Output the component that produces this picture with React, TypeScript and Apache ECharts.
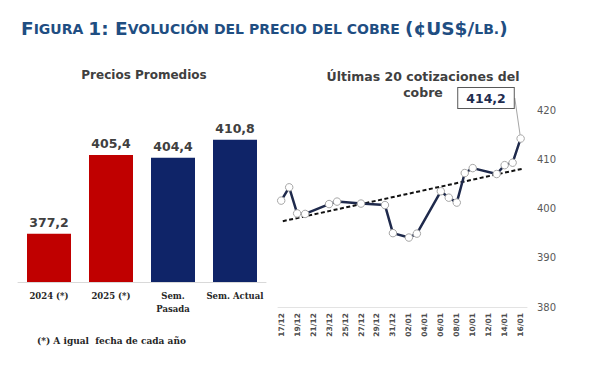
import React, { useEffect, useRef } from 'react';
import * as echarts from 'echarts';

// ---- Data ----
const barCategories = ['2024 (*)', '2025 (*)', 'Sem.\nPasada', 'Sem. Actual'];
const barValues = [377.2, 405.4, 404.4, 410.8];
const barColors = ['#C00000', '#C00000', '#0F2468', '#0F2468'];

const quoteDates = [
  '2024-12-17', '2024-12-18', '2024-12-19', '2024-12-20', '2024-12-23',
  '2024-12-24', '2024-12-27', '2024-12-30', '2024-12-31', '2025-01-02',
  '2025-01-03', '2025-01-06', '2025-01-07', '2025-01-08', '2025-01-09',
  '2025-01-10', '2025-01-13', '2025-01-14', '2025-01-15', '2025-01-16',
];
const quotePrices = [
  401.6, 404.3, 399.0, 398.9, 400.9,
  401.4, 401.0, 400.7, 395.0, 394.1,
  394.9, 403.5, 402.2, 401.2, 407.2,
  408.2, 407.0, 408.8, 409.3, 414.2,
];
const xTickLabels = [
  '17/12', '19/12', '21/12', '23/12', '25/12', '27/12', '29/12', '31/12',
  '02/01', '04/01', '06/01', '08/01', '10/01', '12/01', '14/01', '16/01',
];
const yTicks = [380, 390, 400, 410, 420];

const fmt = (v: number) => v.toFixed(1).replace('.', ',');

const DAY = 86400000;
const baseTime = Date.parse(quoteDates[0] + 'T00:00:00Z');
const dayOffsets = quoteDates.map((d) => Math.round((Date.parse(d + 'T00:00:00Z') - baseTime) / DAY));

// linear trend (Excel-style, on point index)
function trend(values: number[]) {
  const n = values.length;
  const mx = (n - 1) / 2;
  const my = values.reduce((a, b) => a + b, 0) / n;
  let sxy = 0;
  let sxx = 0;
  values.forEach((v, i) => {
    sxy += (i - mx) * (v - my);
    sxx += (i - mx) * (i - mx);
  });
  const b = sxy / sxx;
  const a = my - b * mx;
  return { a, b };
}

export default function App() {
  const ref = useRef<HTMLDivElement>(null);

  useEffect(() => {
    document.body.style.margin = '0';
    const chart = echarts.init(ref.current!, null, { renderer: 'svg' });
    const { a, b } = trend(quotePrices);
    const n = quotePrices.length;
    const lastDay = dayOffsets[n - 1];
    const ext = 0.35;
    const trendData = [
      [0.2, a + b * (n - 1) * 0.2 / lastDay],
      [lastDay + ext, a + b * (n - 1) * (lastDay + ext) / lastDay],
    ];
    const tickDays = xTickLabels.map((_, i) => i * 2);

    chart.setOption({
      animation: false,
      backgroundColor: '#ffffff',
      title: [
        {
          left: 16,
          top: 14,
          text:
            '{b|F}{s|IGURA} {b|1: E}{s|VOLUCIÓN DEL PRECIO DEL COBRE} {b|(¢US$/}{s|LB.}{b|)}',
          textStyle: {
            rich: {
              b: { fontFamily: 'DejaVu Sans', fontWeight: 'bold', fontSize: 18.5, color: '#1F4E82' },
              s: { fontFamily: 'DejaVu Sans', fontWeight: 'bold', fontSize: 14, color: '#1F4E82' },
            },
          },
        },
        {
          left: 139,
          top: 64,
          textAlign: 'center',
          text: 'Precios Promedios',
          textStyle: { fontFamily: 'DejaVu Sans', fontWeight: 'bold', fontSize: 12, color: '#404040' },
        },
        {
          left: 418,
          top: 63,
          textAlign: 'center',
          text: 'Últimas 20 cotizaciones del\ncobre',
          textStyle: {
            fontFamily: 'DejaVu Sans',
            fontWeight: 'bold',
            fontSize: 12.5,
            lineHeight: 16,
            color: '#404040',
          },
        },
      ],
      grid: [
        { left: 18, top: 114, width: 248, height: 168, outerBoundsMode: 'none', containLabel: false },
        { left: 278, top: 110, width: 249, height: 197, outerBoundsMode: 'none', containLabel: false },
      ],
      xAxis: [
        {
          type: 'category',
          gridIndex: 0,
          data: barCategories,
          axisLine: { show: true, lineStyle: { color: '#D9D9D9', width: 1 } },
          axisTick: { show: false },
          axisLabel: {
            margin: 7,
            fontFamily: 'DejaVu Serif',
            fontWeight: 'bold',
            fontSize: 8.5,
            lineHeight: 13,
            color: '#262626',
            interval: 0,
          },
        },
        {
          type: 'value',
          gridIndex: 1,
          min: -0.4,
          max: lastDay + 0.8,
          splitLine: { show: false },
          axisLine: { show: true, onZero: false, lineStyle: { color: '#E3E3E3', width: 1 } },
          axisTick: { show: false },
          axisLabel: {
            customValues: tickDays,
            rotate: 90,
            margin: 6,
            fontFamily: 'DejaVu Sans',
            fontWeight: 'bold',
            fontSize: 7.5,
            color: '#4D4D4D',
            formatter: (v: number) => xTickLabels[Math.round(v / 2)] ?? '',
          },
        },
      ],
      yAxis: [
        {
          type: 'value',
          gridIndex: 0,
          min: 360,
          max: 420,
          show: false,
        },
        {
          type: 'value',
          gridIndex: 1,
          position: 'right',
          min: yTicks[0],
          max: yTicks[yTicks.length - 1],
          interval: 10,
          splitLine: { show: false },
          axisLine: { show: false },
          axisTick: { show: false },
          axisLabel: {
            margin: 10,
            fontFamily: 'DejaVu Sans',
            fontSize: 10,
            color: '#595959',
          },
        },
      ],
      series: [
        {
          type: 'bar',
          xAxisIndex: 0,
          yAxisIndex: 0,
          barWidth: 44,
          data: barValues.map((v, i) => ({ value: v, itemStyle: { color: barColors[i] } })),
          label: {
            show: true,
            position: 'top',
            distance: 5,
            formatter: (p: any) => fmt(p.value),
            fontFamily: 'DejaVu Sans',
            fontWeight: 'bold',
            fontSize: 12.5,
            color: '#404040',
          },
        },
        {
          type: 'line',
          xAxisIndex: 1,
          yAxisIndex: 1,
          data: trendData,
          symbol: 'none',
          lineStyle: { color: '#111111', width: 2, type: [4, 2.5] },
          z: 3,
        },
        {
          type: 'line',
          xAxisIndex: 1,
          yAxisIndex: 1,
          data: quotePrices.map((v, i) => {
            const item: any = { value: [dayOffsets[i], v] };
            if (i === quotePrices.length - 1) {
              item.label = {
                show: true,
                formatter: fmt(v),
                fontFamily: 'DejaVu Sans',
                fontWeight: 'bold',
                fontSize: 12.5,
                color: '#1F2D4F',
                backgroundColor: '#ffffff',
                borderColor: '#595959',
                borderWidth: 1,
                padding: [4, 8, 3, 8],
              };
              item.labelLine = { show: true, lineStyle: { color: '#A6A6A6', width: 1 } };
            }
            return item;
          }),
          symbol: 'circle',
          symbolSize: 7.5,
          showAllSymbol: true,
          itemStyle: { color: '#ffffff', borderColor: '#A6A6A6', borderWidth: 1 },
          lineStyle: { color: '#1F2A4C', width: 2.5 },
          labelLayout: (p: any) =>
            p.dataIndex === quotePrices.length - 1
              ? { x: 486, y: 98, align: 'center', verticalAlign: 'middle' }
              : {},
          z: 4,
        },
      ],
      graphic: [
        {
          type: 'text',
          left: 37,
          top: 336,
          style: {
            text: '(*) A igual  fecha de cada año',
            fontFamily: 'DejaVu Serif',
            fontSize: 9,
            fontWeight: 'bold',
            fill: '#262626',
          },
        },
      ],
    });
    return () => chart.dispose();
  }, []);

  return <div ref={ref} style={{ width: 589, height: 372 }} />;
}
